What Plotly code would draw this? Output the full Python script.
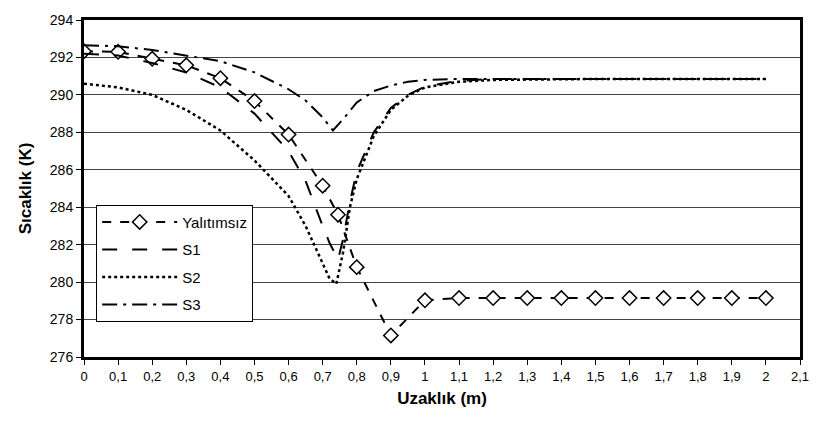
import plotly.graph_objects as go

# ---- data ----
x_yal = [0, 0.1, 0.2, 0.3, 0.4, 0.5, 0.6, 0.7, 0.745, 0.8, 0.9, 1.0,
         1.1, 1.2, 1.3, 1.4, 1.5, 1.6, 1.7, 1.8, 1.9, 2.0]
y_yal = [292.33, 292.3, 291.93, 291.58, 290.89, 289.67, 287.88, 285.15, 283.6, 280.8, 277.15, 279.03,
         279.15, 279.15, 279.15, 279.15, 279.15, 279.15, 279.15, 279.15, 279.15, 279.15]

x_s1 = [0, 0.1, 0.2, 0.3, 0.4, 0.5, 0.6, 0.65, 0.7, 0.72, 0.745, 0.76, 0.78, 0.8,
        0.85, 0.9, 0.95, 1.0, 1.1, 1.2, 1.5, 2.0]
y_s1 = [292.2, 292.1, 291.7, 291.2, 290.4, 289.0, 287.0, 285.4, 283.0, 282.1, 281.2, 282.3, 284.3, 285.9,
        288.0, 289.3, 290.0, 290.45, 290.75, 290.85, 290.85, 290.85]

x_s2 = [0, 0.1, 0.2, 0.3, 0.4, 0.5, 0.6, 0.65, 0.7, 0.72, 0.74, 0.76, 0.78, 0.8,
        0.85, 0.9, 0.95, 1.0, 1.1, 1.2, 1.5, 2.0]
y_s2 = [290.6, 290.4, 290.0, 289.2, 288.1, 286.5, 284.6, 283.0, 281.0, 280.2, 279.9, 281.6, 284.0, 285.5,
        287.8, 289.2, 289.95, 290.4, 290.7, 290.8, 290.85, 290.85]

x_s3 = [0, 0.1, 0.2, 0.3, 0.4, 0.5, 0.6, 0.65, 0.7, 0.73, 0.76, 0.8,
        0.85, 0.9, 0.95, 1.0, 1.1, 1.5, 2.0]
y_s3 = [292.65, 292.6, 292.4, 292.1, 291.8, 291.2, 290.3, 289.7, 288.8, 288.1, 288.7, 289.6,
        290.2, 290.5, 290.7, 290.8, 290.85, 290.85, 290.85]

names = ["Yalıtımsız", "S1", "S2", "S3"]
x_ticks = [0, 0.1, 0.2, 0.3, 0.4, 0.5, 0.6, 0.7, 0.8, 0.9, 1.0,
           1.1, 1.2, 1.3, 1.4, 1.5, 1.6, 1.7, 1.8, 1.9, 2.0, 2.1]
x_ticktext = ["0", "0,1", "0,2", "0,3", "0,4", "0,5", "0,6", "0,7", "0,8", "0,9", "1",
              "1,1", "1,2", "1,3", "1,4", "1,5", "1,6", "1,7", "1,8", "1,9", "2", "2,1"]
y_ticks = [276, 278, 280, 282, 284, 286, 288, 290, 292, 294]

fig = go.Figure()
fig.add_trace(go.Scatter(x=x_yal, y=y_yal, name=names[0], mode="lines+markers",
                         line=dict(color="black", width=2, dash="dash"),
                         marker=dict(symbol="diamond", size=11, color="white",
                                     line=dict(color="black", width=1.5)),
                         legendgroup="a"))
fig.add_trace(go.Scatter(x=x_s1, y=y_s1, name=names[1], mode="lines",
                         line=dict(color="black", width=2, dash="longdash"),
                         legendgroup="b"))
fig.add_trace(go.Scatter(x=x_s2, y=y_s2, name=names[2], mode="lines",
                         line=dict(color="black", width=2.5, dash="dot"),
                         legendgroup="c"))
fig.add_trace(go.Scatter(x=x_s3, y=y_s3, name=names[3], mode="lines",
                         line=dict(color="black", width=2, dash="longdashdot"),
                         legendgroup="d"))

fig.update_layout(
    width=821, height=426,
    margin=dict(l=83.5, r=13, t=12, b=69),
    paper_bgcolor="white", plot_bgcolor="white",
    font=dict(family="Liberation Sans, Arial, sans-serif", color="black", size=12),
    showlegend=True,
    legend=dict(x=0.017, y=0.452, xanchor="left", yanchor="top",
                bgcolor="white", bordercolor="black", borderwidth=1,
                font=dict(size=15), itemwidth=75, traceorder="grouped",
                tracegroupgap=5),
    xaxis=dict(range=[0, 2.1], tickvals=x_ticks, ticktext=x_ticktext,
               showgrid=False, zeroline=False, showline=True, mirror=True,
               linecolor="black", linewidth=3, ticks="outside", ticklen=5,
               tickcolor="black", tickfont=dict(size=13),
               title=dict(text="<b>Uzaklık (m)</b>", font=dict(size=17), standoff=10)),
    yaxis=dict(range=[276, 294], tickvals=y_ticks,
               showgrid=True, gridcolor="#444444", gridwidth=1,
               zeroline=False, showline=True, mirror=True,
               linecolor="black", linewidth=3, ticks="outside", ticklen=5,
               tickcolor="black", tickfont=dict(size=14),
               title=dict(text="<b>Sıcaklık (K)</b>", font=dict(size=17), standoff=14)),
)

fig.write_html("out.html")
